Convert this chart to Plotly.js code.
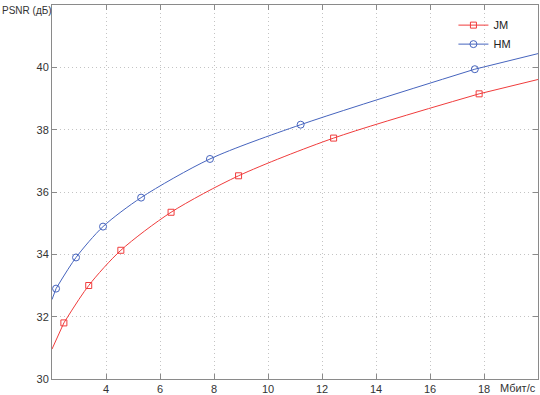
<!DOCTYPE html>
<html><head><meta charset="utf-8">
<script src="https://cdn.plot.ly/plotly-3.0.1.min.js"></script>
<style>html,body{margin:0;padding:0;background:#fff}#chart{width:540px;height:395px}</style>
</head><body><div id="chart"></div>
<script>
// Bitrate (Мбит/с) and PSNR (дБ)
const jmRate = [2.44, 3.36, 4.55, 6.41, 8.91, 12.43, 17.82];
const jmPsnr = [31.80, 33.00, 34.13, 35.35, 36.52, 37.73, 39.15];
const hmRate = [2.15, 2.89, 3.89, 5.30, 7.85, 11.21, 17.66];
const hmPsnr = [32.90, 33.90, 34.89, 35.82, 37.06, 38.16, 39.94];
// curve ends at the axis edges
const jmEdgeRate = [2.0, 20.0];
const jmEdgePsnr = [30.96, 39.61];
const hmEdgeRate = [2.0, 20.0];
const hmEdgePsnr = [32.55, 40.44];
const xTicks = [4, 6, 8, 10, 12, 14, 16, 18];
const yTicks = [30, 32, 34, 36, 38, 40];
const names = ['JM', 'HM'];

const red = '#f03c3c', blue = '#4664be';
function ext(r, p, er, ep) {
  return {x: [er[0], r[0], null, r[r.length-1], er[1]],
          y: [ep[0], p[0], null, p[p.length-1], ep[1]]};
}
const je = ext(jmRate, jmPsnr, jmEdgeRate, jmEdgePsnr);
const he = ext(hmRate, hmPsnr, hmEdgeRate, hmEdgePsnr);
const traces = [
  {x: je.x, y: je.y, mode: 'lines', line: {color: red, width: 1}, showlegend: false, hoverinfo: 'skip'},
  {x: he.x, y: he.y, mode: 'lines', line: {color: blue, width: 1}, showlegend: false, hoverinfo: 'skip'},
  {x: jmRate, y: jmPsnr, name: names[0], mode: 'lines+markers', line: {color: red, width: 1, shape: 'spline', smoothing: 0.8},
   marker: {symbol: 'square-open', size: 6, color: red, line: {width: 1, color: red}}},
  {x: hmRate, y: hmPsnr, name: names[1], mode: 'lines+markers', line: {color: blue, width: 1, shape: 'spline', smoothing: 0.8},
   marker: {symbol: 'circle-open', size: 7, color: blue, line: {width: 1, color: blue}}}
];
const fontFam = 'Liberation Sans, Arial, sans-serif';
const axisCommon = {
  showline: true, linecolor: '#8a8a8a', linewidth: 1, mirror: 'ticks',
  ticks: 'inside', ticklen: 5, tickcolor: '#8a8a8a', tickwidth: 1,
  showgrid: true, gridcolor: '#c4c4c4', griddash: '1px,3px', gridwidth: 1,
  zeroline: false, tickfont: {family: fontFam, size: 11, color: '#333'}
};
const layout = {
  width: 540, height: 395,
  margin: {l: 52, r: 2, t: 5, b: 16},
  paper_bgcolor: '#fff', plot_bgcolor: '#fff',
  xaxis: Object.assign({}, axisCommon, {range: [2, 20], tickmode: 'array', tickvals: xTicks, ticktext: xTicks.map(String)}),
  yaxis: Object.assign({}, axisCommon, {range: [30, 42], tickmode: 'array', tickvals: yTicks, ticktext: yTicks.map(String)}),
  showlegend: true,
  legend: {x: 0.826, y: 0.985, xanchor: 'left', yanchor: 'top', bgcolor: 'rgba(0,0,0,0)', borderwidth: 0,
           font: {family: fontFam, size: 11, color: '#222'}, tracegroupgap: 0},
  annotations: [
    {text: 'PSNR (дБ)', xref: 'paper', yref: 'paper', x: -52/486, y: 1, xanchor: 'left', yanchor: 'middle',
     xshift: 0, yshift: -5, showarrow: false, font: {family: fontFam, size: 10, color: '#333'}},
    {text: 'Мбит/с', xref: 'paper', yref: 'paper', x: 1, y: 0, xanchor: 'right', yanchor: 'top',
     xshift: 0, yshift: -1, showarrow: false, font: {family: fontFam, size: 11, color: '#333'}}
  ]
};
Plotly.newPlot('chart', traces, layout, {displayModeBar: false, staticPlot: true});
</script></body></html>
